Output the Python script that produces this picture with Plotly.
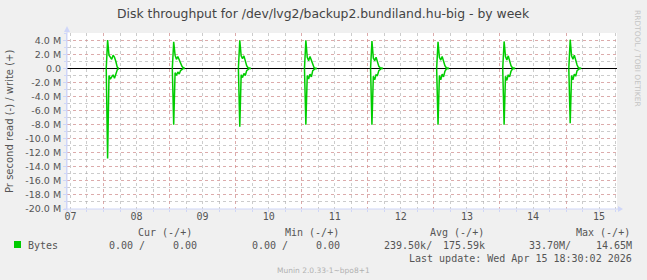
import plotly.graph_objects as go

# ---------------- data ----------------
days = ["2026-04-08", "2026-04-09", "2026-04-10", "2026-04-11",
        "2026-04-12", "2026-04-13", "2026-04-14", "2026-04-15"]
# samples every 30 minutes starting 01:00 each day (MB/s)
sample_times = ["01:00", "01:30", "02:00", "02:30", "03:00", "03:30",
                "04:00", "04:30", "05:00", "05:30"]
write_M = [
    [0, 4.05, 1.9, 1.6, 1.3, 1.9, 1.6, 1.0, 0.2, 0],
    [0, 3.80, 1.9, 1.3, 1.7, 1.2, 0.8, 0.3, 0.1, 0],
    [0, 4.00, 1.8, 1.4, 1.8, 1.1, 0.4, 0.1, 0.0, 0],
    [0, 4.00, 1.6, 1.1, 1.7, 1.2, 0.5, 0.1, 0.0, 0],
    [0, 3.90, 1.5, 1.1, 1.6, 0.9, 0.3, 0.1, 0.0, 0],
    [0, 3.80, 1.6, 1.2, 1.7, 1.0, 0.4, 0.1, 0.0, 0],
    [0, 3.85, 1.7, 1.2, 1.8, 1.0, 0.4, 0.1, 0.0, 0],
    [0, 4.10, 1.8, 1.3, 1.9, 1.0, 0.5, 0.1, 0.0, 0],
]
read_M = [
    [0, -12.8, -1.0, -1.5, -1.2, -0.9, -1.4, -0.8, -0.2, 0],
    [0, -8.0, -0.6, -1.0, -0.5, -0.8, -0.3, -0.1, 0.0, 0],
    [0, -8.3, -0.9, -1.3, -0.7, -1.0, -0.3, -0.1, 0.0, 0],
    [0, -8.0, -1.0, -1.5, -0.8, -1.2, -0.3, -0.1, 0.0, 0],
    [0, -8.0, -1.1, -1.6, -0.9, -1.0, -0.3, -0.1, 0.0, 0],
    [0, -8.0, -1.0, -1.6, -0.8, -1.2, -0.4, -0.1, 0.0, 0],
    [0, -8.0, -1.1, -1.7, -0.9, -1.2, -0.4, -0.1, 0.0, 0],
    [0, -7.8, -1.0, -1.6, -0.8, -1.1, -0.3, -0.1, 0.0, 0],
]
x_start = "2026-04-07 10:45"
x_end = "2026-04-15 18:30"
tick_days = ["2026-04-07", "2026-04-08", "2026-04-09", "2026-04-10", "2026-04-11",
             "2026-04-12", "2026-04-13", "2026-04-14", "2026-04-15"]
tick_labels = ["07", "08", "09", "10", "11", "12", "13", "14", "15"]
y_ticks_M = [4, 2, 0, -2, -4, -6, -8, -10, -12, -14, -16, -18, -20]
y_tick_labels = ["4.0 M", "2.0 M", "0.0", "-2.0 M", "-4.0 M", "-6.0 M", "-8.0 M",
                 "-10.0 M", "-12.0 M", "-14.0 M", "-16.0 M", "-18.0 M", "-20.0 M"]

# ---------------- build series (gaps between daily bursts) ----------------
xs, yw, yr = [], [], []
for d, w, r in zip(days, write_M, read_M):
    for t, wv, rv in zip(sample_times, w, r):
        xs.append(f"{d} {t}")
        yw.append(wv * 1e6)
        yr.append(rv * 1e6)
    xs.append(None); yw.append(None); yr.append(None)

GREEN = "#00cc00"
FONT = "#555555"
L, R, T, B = 67, 617, 33, 209
W, H = 647, 280


def px(x):
    return (x - L) / (R - L)


def py(y):
    return (B - y) / (B - T)


fig = go.Figure()
fig.add_trace(go.Scatter(x=xs, y=yr, mode="lines", line=dict(color=GREEN, width=1.5),
                         connectgaps=False, showlegend=False, hoverinfo="skip"))
fig.add_trace(go.Scatter(x=xs, y=yw, mode="lines", line=dict(color=GREEN, width=1.5),
                         connectgaps=False, showlegend=False, hoverinfo="skip"))
# invisible anchor trace for the midnight grid axis
fig.add_trace(go.Scatter(x=[x_start, x_end], y=[0, 0], xaxis="x2", mode="lines",
                         line=dict(width=0), opacity=0, showlegend=False, hoverinfo="skip"))

tickvals_x = [f"{d} 12:00" for d in tick_days]
midnights = [f"{d} 00:00" for d in days]

fig.update_layout(
    width=W, height=H,
    margin=dict(l=L, r=W - R, t=T, b=H - B),
    paper_bgcolor="#f0f0f0", plot_bgcolor="#ffffff",
    font=dict(family="DejaVu Sans", color=FONT, size=10),
    xaxis=dict(
        type="date", range=[x_start, x_end],
        tickmode="array", tickvals=tickvals_x, ticktext=tick_labels,
        showgrid=False, zeroline=False,
        showline=False,
        ticks="", tickfont=dict(family="DejaVu Sans Mono", size=10, color=FONT),
        minor=dict(tick0="2026-04-07 00:00", dtick=6 * 3600 * 1000,
                   showgrid=True, gridcolor="rgba(170,170,170,0.6)", griddash="dot",
                   gridwidth=1, ticks="outside", ticklen=2, tickcolor="#cfd6f8"),
    ),
    xaxis2=dict(
        type="date", range=[x_start, x_end], overlaying="x", side="bottom",
        tickmode="array", tickvals=midnights, showticklabels=False,
        showgrid=True, gridcolor="rgba(240,130,130,0.45)", griddash="dot", gridwidth=1,
        zeroline=False, showline=False, ticks="",
    ),
    yaxis=dict(
        range=[-20e6, 5.05e6],
        tickmode="array", tickvals=[v * 1e6 for v in y_ticks_M], ticktext=y_tick_labels,
        showgrid=True, gridcolor="rgba(240,130,130,0.45)", griddash="dot", gridwidth=1,
        zeroline=True, zerolinecolor="#000000", zerolinewidth=1,
        showline=True, linecolor="#cfd6f8", linewidth=1,
        ticks="outside", ticklen=3, tickcolor="#cfd6f8",
        tickfont=dict(family="DejaVu Sans", size=9.5, color=FONT),
        minor=dict(tick0=0, dtick=1e6, showgrid=True,
                   gridcolor="rgba(170,170,170,0.6)", griddash="dot", gridwidth=1,
                   ticks="outside", ticklen=2, tickcolor="#cfd6f8"),
    ),
)

shapes = []
# bottom axis line with arrow
shapes.append(dict(type="line", xref="paper", yref="paper", x0=px(L - 3), x1=px(R + 4),
                   y0=py(B), y1=py(B), line=dict(color="#cfd6f8", width=1)))
shapes.append(dict(type="path", xref="paper", yref="paper",
                   path=f"M {px(R + 1)} {py(B - 3)} L {px(R + 6)} {py(B)} L {px(R + 1)} {py(B + 3)} Z",
                   fillcolor="#cfd6f8", line=dict(width=0)))
# left axis arrow
shapes.append(dict(type="line", xref="paper", yref="paper", x0=px(L), x1=px(L),
                   y0=py(B + 3), y1=py(T - 3), line=dict(color="#cfd6f8", width=1)))
shapes.append(dict(type="path", xref="paper", yref="paper",
                   path=f"M {px(L - 3)} {py(T - 1)} L {px(L)} {py(T - 7)} L {px(L + 3)} {py(T - 1)} Z",
                   fillcolor="#cfd6f8", line=dict(width=0)))
# legend swatch
shapes.append(dict(type="rect", xref="paper", yref="paper", x0=px(14), x1=px(21),
                   y0=py(248), y1=py(241), fillcolor=GREEN, line=dict(width=0)))
fig.update_layout(shapes=shapes)

MONO = dict(family="DejaVu Sans Mono", size=10, color="#555555")
ann = []


def text(x, y, s, anchor="left", font=MONO, angle=0):
    ann.append(dict(x=px(x), y=py(y), xref="paper", yref="paper", text=s,
                    showarrow=False, xanchor=anchor, yanchor="middle",
                    font=font, textangle=angle))


text(323, 13, "Disk throughput for /dev/lvg2/backup2.bundiland.hu-big - by week", "center",
     dict(family="DejaVu Sans", size=12.4, color="#444444"))
text(10, 122, "Pr second read (-) / write (+)", "center",
     dict(family="DejaVu Sans", size=10, color=FONT), -90)
text(638, 58, "RRDTOOL / TOBI OETIKER", "center",
     dict(family="DejaVu Sans", size=7.5, color="#c4c4c4"), 90)
# legend headers
text(136, 232, "Cur (-/+)")
text(283, 232, "Min (-/+)")
text(428, 232, "Avg (-/+)")
text(574, 232, "Max (-/+)")
# legend row
text(26, 245, "Bytes")
text(107, 245, "0.00 /")
text(199, 245, "0.00", "right")
text(250, 245, "0.00 /")
text(342, 245, "0.00", "right")
text(382, 245, "239.50k/")
text(487, 245, "175.59k", "right")
text(527, 245, "33.70M/")
text(634, 245, "14.65M", "right")
text(634, 258, "Last update: Wed Apr 15 18:30:02 2026", "right")
text(323, 270, "Munin 2.0.33-1~bpo8+1", "center",
     dict(family="DejaVu Sans", size=7.5, color="#b0b0b0"))
fig.update_layout(annotations=ann)

fig.write_html("out.html")
